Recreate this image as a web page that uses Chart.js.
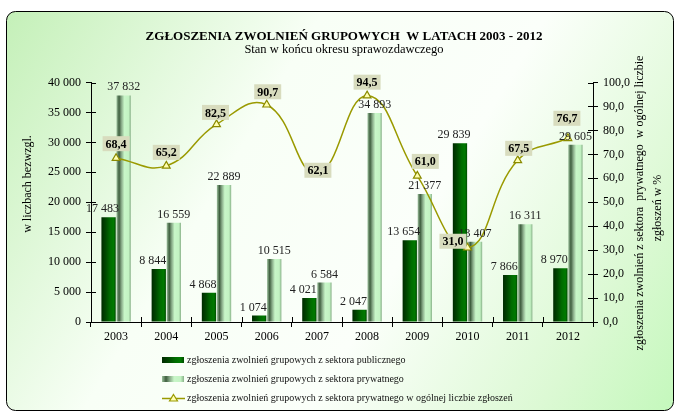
<!DOCTYPE html>
<html>
<head>
<meta charset="utf-8">
<script src="https://cdn.jsdelivr.net/npm/chart.js@4.4.0/dist/chart.umd.min.js"></script>
<style>
  html, body { margin: 0; padding: 0; background: #fff; }
  #wrap { width: 675px; height: 412px; }
</style>
</head>
<body>
<div id="wrap"><canvas id="zwolnienia" width="675" height="412"></canvas></div>
<script>
// dane
var lata = ["2003", "2004", "2005", "2006", "2007", "2008", "2009", "2010", "2011", "2012"];
var sektorPubliczny = [17483, 8844, 4868, 1074, 4021, 2047, 13654, 29839, 7866, 8970];
var sektorPrywatny = [37832, 16559, 22889, 10515, 6584, 34893, 21377, 13407, 16311, 29605];
var udzialPrywatnego = [68.4, 65.2, 82.5, 90.7, 62.1, 94.5, 61.0, 31.0, 67.5, 76.7];
var osLewaMax = 40000, osLewaKrok = 5000;
var osPrawaMax = 100, osPrawaKrok = 10;

var tytul = "ZGŁOSZENIA ZWOLNIEŃ GRUPOWYCH  W LATACH 2003 - 2012";
var podtytul = "Stan w końcu okresu sprawozdawczego";
var tytulLewy = "w liczbach bezwzgl.";
var tytulPrawy = ["zgłoszenia zwolnień z sektora  prywatnego  w ogólnej liczbie", "zgłoszeń w %"];

// przesuniecia etykiet procentowych (jak w oryginale)
var przesuniecieEtykiet = [[0,-14.5],[0,-13.5],[-1,-12],[1,-13],[1,-3],[0,-13.5],[8,-14.5],[-14.5,-6.5],[1,-12],[-1,-20]];

var SERIF = "'Liberation Serif', 'Times New Roman', serif";

function fmt(v) {
    return String(v).replace(/\B(?=(\d{3})+(?!\d))/g, ' ');
}

function gradPubliczny(ctx, x0, x1) {
    var g = ctx.createLinearGradient(x0, 0, x1, 0);
    g.addColorStop(0, '#002a00');
    g.addColorStop(0.3, '#004800');
    g.addColorStop(0.6, '#006c00');
    g.addColorStop(0.85, '#007a00');
    g.addColorStop(1, '#004a00');
    return g;
}
function gradPrywatny(ctx, x0, x1) {
    var g = ctx.createLinearGradient(x0, 0, x1, 0);
    g.addColorStop(0, '#9cc09c');
    g.addColorStop(0.18, '#3e5e3e');
    g.addColorStop(0.35, '#88aa88');
    g.addColorStop(0.55, '#c8f6c8');
    g.addColorStop(0.85, '#c2f2c2');
    g.addColorStop(1, '#88b088');
    return g;
}

var tlo = {
    id: 'tlo',
    beforeDraw: function(chart) {
        var c = chart.ctx;
        c.save();
        c.fillStyle = '#fff';
        c.fillRect(0, 0, chart.width, chart.height);
        var g = c.createLinearGradient(6, 11, 673, 411);
        g.addColorStop(0, '#c4f0b8');
        g.addColorStop(0.35, '#f8fff6');
        g.addColorStop(0.6, '#fbfffa');
        g.addColorStop(0.85, '#dcf9d4');
        g.addColorStop(1, '#c4f8bc');
        c.beginPath();
        c.roundRect(6.5, 11.5, 667, 399, 9);
        c.fillStyle = g;
        c.fill();
        c.strokeStyle = '#000';
        c.lineWidth = 1;
        c.stroke();

        // tytuly
        c.fillStyle = '#000';
        c.textAlign = 'center';
        c.textBaseline = 'middle';
        c.font = 'bold 13px ' + SERIF;
        c.fillText(tytul, 344, 37);
        c.font = '12.5px ' + SERIF;
        c.fillText(podtytul, 344, 50);

        // tytuly osi
        c.font = '12px ' + SERIF;
        c.save();
        c.translate(28, 184);
        c.rotate(-Math.PI / 2);
        c.fillText(tytulLewy, 0, 0);
        c.restore();
        c.save();
        c.translate(640, 203);
        c.rotate(-Math.PI / 2);
        c.fillText(tytulPrawy[0], 0, 0);
        c.restore();
        c.save();
        c.translate(658, 208);
        c.rotate(-Math.PI / 2);
        c.fillText(tytulPrawy[1], 0, 0);
        c.restore();
        c.restore();
    },
    beforeDatasetsDraw: function(chart) {
        var c = chart.ctx;
        [0, 1].forEach(function(di) {
            chart.getDatasetMeta(di).data.forEach(function(el) {
                var x0 = el.x - el.width / 2, x1 = el.x + el.width / 2;
                el.options.backgroundColor = di === 0 ? gradPubliczny(c, x0, x1) : gradPrywatny(c, x0, x1);
            });
        });
        // kreski podzialki do wewnatrz
        var a = chart.chartArea;
        c.save();
        c.strokeStyle = '#000';
        c.lineWidth = 1;
        c.beginPath();
        chart.scales.y.ticks.forEach(function(t) {
            var y = Math.round(chart.scales.y.getPixelForValue(t.value)) + 0.5;
            c.moveTo(a.left, y); c.lineTo(a.left + 5, y);
        });
        chart.scales.y2.ticks.forEach(function(t) {
            var y = Math.round(chart.scales.y2.getPixelForValue(t.value)) + 0.5;
            c.moveTo(a.right - 5, y); c.lineTo(a.right, y);
        });
        var sx = chart.scales.x;
        for (var i = 1; i < lata.length; i++) {
            var x = Math.round((sx.getPixelForValue(i - 1) + sx.getPixelForValue(i)) / 2) + 0.5;
            c.moveTo(x, a.bottom); c.lineTo(x, a.bottom - 5);
        }
        c.stroke();
        c.restore();
    },
    afterDatasetsDraw: function(chart) {
        var c = chart.ctx;
        c.save();
        c.fillStyle = '#222';
        c.font = '12px ' + SERIF;
        c.textAlign = 'center';
        c.textBaseline = 'alphabetic';
        chart.getDatasetMeta(0).data.forEach(function(el, i) {
            c.fillText(fmt(sektorPubliczny[i]), el.x - 6, el.y - 5);
        });
        chart.getDatasetMeta(1).data.forEach(function(el, i) {
            c.fillText(fmt(sektorPrywatny[i]), el.x, el.y - 5);
        });
        c.font = 'bold 12px ' + SERIF;
        c.textBaseline = 'middle';
        chart.getDatasetMeta(2).data.forEach(function(el, i) {
            var txt = udzialPrywatnego[i].toFixed(1).replace('.', ',');
            var w = c.measureText(txt).width + 6, h = 15;
            var cx = el.x + przesuniecieEtykiet[i][0], cy = el.y + przesuniecieEtykiet[i][1];
            c.fillStyle = '#d8dcbe';
            c.fillRect(cx - w / 2, cy - h / 2, w, h);
            c.fillStyle = '#000';
            c.fillText(txt, cx, cy + 1);
        });
        c.restore();
    },
    afterDraw: function(chart) {
        // legenda
        var c = chart.ctx;
        var wiersze = [360, 379, 398];
        c.save();
        c.font = '10px ' + SERIF;
        c.textAlign = 'left';
        c.textBaseline = 'middle';
        c.fillStyle = gradPubliczny(c, 162, 184);
        c.fillRect(162, wiersze[0] - 3, 22, 6);
        c.fillStyle = gradPrywatny(c, 162, 184);
        c.fillRect(162, wiersze[1] - 3, 22, 6);
        c.strokeStyle = '#9a9a00';
        c.lineWidth = 1.5;
        c.beginPath();
        c.moveTo(162, wiersze[2] + 0.5); c.lineTo(185, wiersze[2] + 0.5);
        c.stroke();
        c.beginPath();
        c.moveTo(173.5, wiersze[2] - 3.5);
        c.lineTo(177.5, wiersze[2] + 3);
        c.lineTo(169.5, wiersze[2] + 3);
        c.closePath();
        c.fillStyle = '#ffffb0';
        c.fill();
        c.lineWidth = 1.2;
        c.stroke();
        c.fillStyle = '#111';
        chart.data.datasets.forEach(function(ds, i) {
            c.fillText(ds.label, 187, wiersze[i] + 0.5);
        });
        c.restore();
    }
};

new Chart(document.getElementById("zwolnienia"), {
    type: 'bar',
    data: {
        labels: lata,
        datasets: [
            {
                label: "zgłoszenia zwolnień grupowych z sektora publicznego",
                data: sektorPubliczny,
                backgroundColor: function() { return '#006600'; },
                borderWidth: 0,
                yAxisID: 'y',
                order: 1,
                categoryPercentage: 0.6,
                barPercentage: 0.95
            },
            {
                label: "zgłoszenia zwolnień grupowych z sektora prywatnego",
                data: sektorPrywatny,
                backgroundColor: function() { return '#c0f0c0'; },
                borderWidth: 0,
                yAxisID: 'y',
                order: 1,
                categoryPercentage: 0.6,
                barPercentage: 0.95
            },
            {
                type: 'line',
                label: "zgłoszenia zwolnień grupowych z sektora prywatnego w ogólnej liczbie zgłoszeń",
                data: udzialPrywatnego,
                yAxisID: 'y2',
                order: 0,
                borderColor: '#9a9a00',
                borderWidth: 1.5,
                tension: 0.45,
                fill: false,
                pointStyle: 'triangle',
                pointRadius: 4.5,
                pointBackgroundColor: '#ffffb0',
                pointBorderColor: '#8a8a00',
                pointBorderWidth: 1.2
            }
        ]
    },
    options: {
        responsive: false,
        animation: false,
        devicePixelRatio: 1,
        layout: { padding: { top: 82.5, left: 0, right: 0, bottom: 0 } },
        plugins: {
            legend: { display: false },
            title: { display: false },
            tooltip: { enabled: false }
        },
        scales: {
            x: {
                offset: true,
                grid: { display: true, drawOnChartArea: false, offset: true, tickLength: 5, color: '#000' },
                border: { color: '#000', width: 1 },
                ticks: { color: '#000', font: { family: SERIF, size: 12 }, padding: 3 },
                afterFit: function(s) { s.height = 90; }
            },
            y: {
                position: 'left',
                min: 0,
                max: osLewaMax,
                grid: { display: true, drawOnChartArea: false, tickLength: 5, color: '#000' },
                border: { color: '#000', width: 1 },
                ticks: {
                    stepSize: osLewaKrok,
                    color: '#000',
                    padding: 5,
                    font: { family: SERIF, size: 12 },
                    callback: function(v) { return fmt(v); }
                },
                afterFit: function(s) { s.width = 91; }
            },
            y2: {
                position: 'right',
                min: 0,
                max: osPrawaMax,
                grid: { display: true, drawOnChartArea: false, tickLength: 5, color: '#000' },
                border: { color: '#000', width: 1 },
                ticks: {
                    stepSize: osPrawaKrok,
                    color: '#000',
                    padding: 5,
                    font: { family: SERIF, size: 12 },
                    callback: function(v) { return v.toFixed(1).replace('.', ','); }
                },
                afterFit: function(s) { s.width = 82; }
            }
        }
    },
    plugins: [tlo]
});
</script>
</body>
</html>
